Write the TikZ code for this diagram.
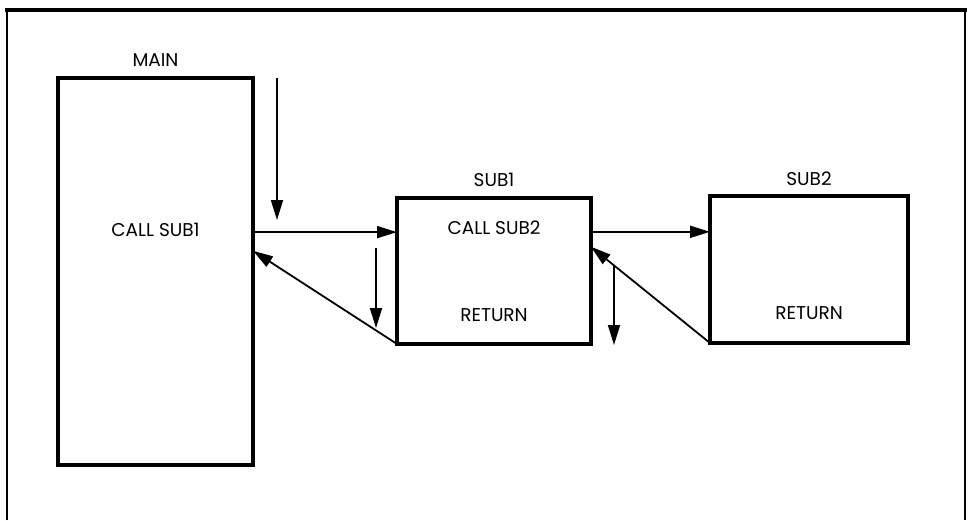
\documentclass[tikz,border=0pt]{standalone}
\usepackage{fontspec}
\setmainfont{Poppins}
\usepackage{tikz}
\usetikzlibrary{positioning,arrows.meta}

\begin{document}
\begin{tikzpicture}[
  x=1pt, y=-1pt,
  font=\fontsize{18.5}{20}\selectfont,
  routine/.style={draw, line width=3.2pt, inner sep=0pt, outer sep=0pt},
  txt/.style={inner sep=0pt},
  arr/.style={-{Triangle[length=20pt, width=12pt]}, line width=1.8pt},
  frameline/.style={line width=1.8pt}
]
\useasboundingbox (0,0) rectangle (968,520);
% outer frame
\draw[frameline] (7,520) -- (7,10) -- (965,10) -- (965,520);
\draw[line width=4.5pt] (5,10) -- (967,10);

\node[routine, minimum width=195pt, minimum height=387pt] (main) at (155.5,271.5) {};
\node[routine, minimum width=194pt, minimum height=146pt] (sub1) at (494,271) {};
\node[routine, minimum width=198pt, minimum height=147pt] (sub2) at (809,269.5) {};

\node[txt, above=11pt of main] (mainlbl) {MAIN};
\node[txt, above=11pt of sub1] (sub1lbl) {SUB1};
\node[txt, above=10pt of sub2] (sub2lbl) {SUB2};

\node[txt] (callsub1) at ([yshift=41.5pt]main.center) {CALL SUB1};
\node[txt] (callsub2) at ([yshift=43pt]sub1.center) {CALL SUB2};
\node[txt] (ret1) at ([yshift=-44pt]sub1.center) {RETURN};
\node[txt] (ret2) at ([yshift=-43.5pt]sub2.center) {RETURN};

% flow of control
\coordinate (d1s) at (277,78);
\coordinate (d1e) at (277,220);
\coordinate (d2s) at (376,248);
\coordinate (d2e) at (376,328);
\coordinate (d3s) at (614,265);
\coordinate (d3e) at (614,345);

\draw[arr] (d1s) -- (d1e);
\draw[arr] (main.22) -- (main.22 -| sub1.west);
\draw[arr] (sub1.south west) -- (main.12);
\draw[arr] (d2s) -- (d2e);
\draw[arr] (sub1.22) -- (sub1.22 -| sub2.west);
\draw[arr] (sub2.south west) -- (sub1.14);
\draw[arr] (d3s) -- (d3e);
\end{tikzpicture}
\end{document}
